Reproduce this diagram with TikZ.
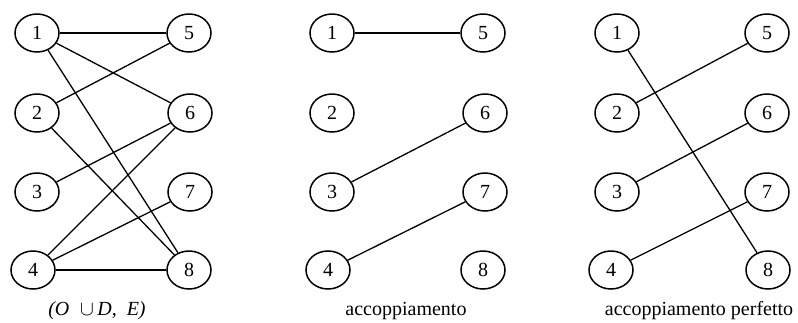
\documentclass[tikz,border=0pt]{standalone}
\usepackage{fontspec}
\setmainfont{Liberation Serif}
\usetikzlibrary{shapes.geometric}
\begin{document}
\begin{tikzpicture}[x=1pt,y=-1pt,
  vtx/.style={draw, ellipse, line width=1.5pt, minimum width=44pt, minimum height=38pt, inner sep=0pt, font=\fontsize{20}{24}\selectfont},
  edge/.style={line width=1.3pt},
  lbl/.style={anchor=base, font=\fontsize{20}{24}\selectfont}]
\useasboundingbox (0,0) rectangle (798,322);
% graph 1
\node[vtx] (a1) at (37,33) {1};
\node[vtx] (a2) at (37,113) {2};
\node[vtx] (a3) at (37,192) {3};
\node[vtx] (a4) at (33,270) {4};
\node[vtx] (a5) at (189,33) {5};
\node[vtx] (a6) at (190,113) {6};
\node[vtx] (a7) at (190,192) {7};
\node[vtx] (a8) at (189,270) {8};
\draw[edge] (a1) -- (a5);
\draw[edge] (a1) -- (a6);
\draw[edge] (a1) -- (a8);
\draw[edge] (a2) -- (a5);
\draw[edge] (a2) -- (a8);
\draw[edge] (a3) -- (a6);
\draw[edge] (a4) -- (a6);
\draw[edge] (a4) -- (a7);
\draw[edge] (a4) -- (a8);
\node[lbl] (la) at (97,315) {\textit{(O} $\;\cup$\,\textit{D, \ E)}};
% graph 2
\node[vtx] (b1) at (332,33) {1};
\node[vtx] (b2) at (332,113) {2};
\node[vtx] (b3) at (332,192) {3};
\node[vtx] (b4) at (328,270) {4};
\node[vtx] (b5) at (483,33) {5};
\node[vtx] (b6) at (485,113) {6};
\node[vtx] (b7) at (485,192) {7};
\node[vtx] (b8) at (483,270) {8};
\draw[edge] (b1) -- (b5);
\draw[edge] (b3) -- (b6);
\draw[edge] (b4) -- (b7);
\node[lbl] (lb) at (406,315) {accoppiamento};
% graph 3
\node[vtx] (c1) at (617,33) {1};
\node[vtx] (c2) at (617,113) {2};
\node[vtx] (c3) at (617,192) {3};
\node[vtx] (c4) at (611,270) {4};
\node[vtx] (c5) at (767,33) {5};
\node[vtx] (c6) at (767,113) {6};
\node[vtx] (c7) at (767,192) {7};
\node[vtx] (c8) at (768,270) {8};
\draw[edge] (c1) -- (c8);
\draw[edge] (c2) -- (c5);
\draw[edge] (c3) -- (c6);
\draw[edge] (c4) -- (c7);
\node[lbl] (lc) at (699,315) {accoppiamento perfetto};
\end{tikzpicture}
\end{document}
